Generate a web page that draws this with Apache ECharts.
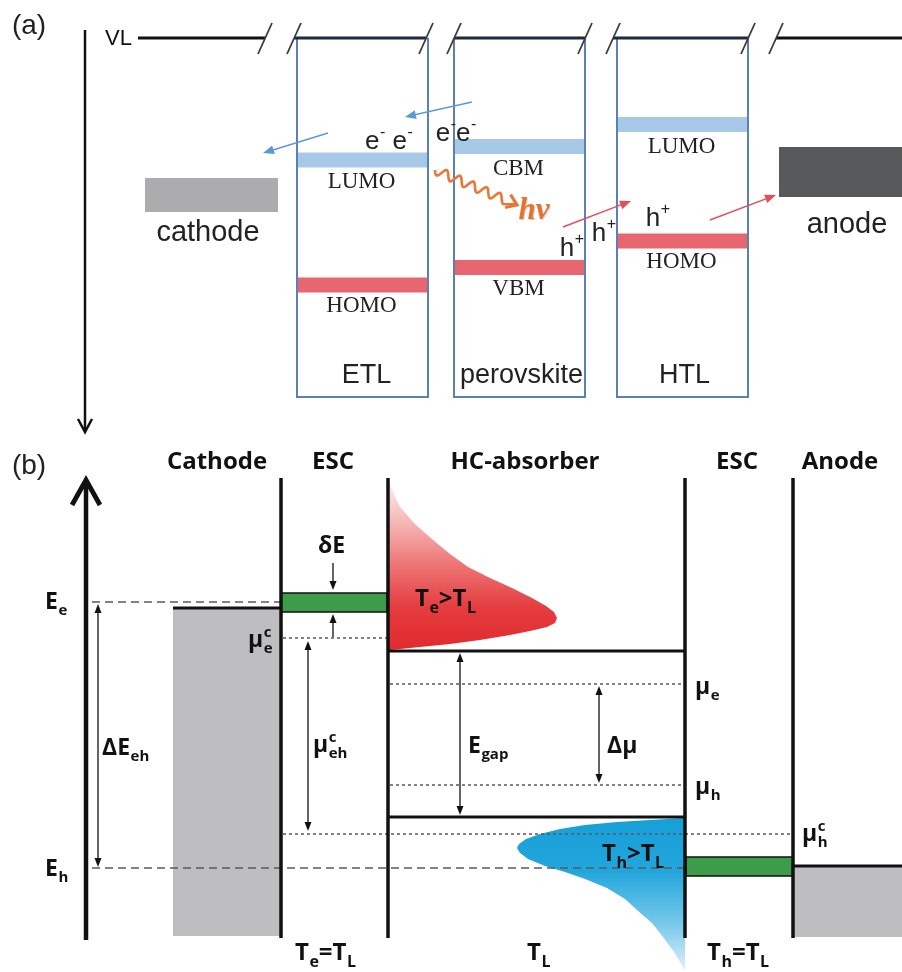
<!DOCTYPE html>
<html>
<head>
<meta charset="utf-8">
<script src="https://cdn.jsdelivr.net/npm/echarts@6/dist/echarts.min.js"></script>
<style>
  html, body { margin: 0; padding: 0; background: #fff; }
  #chart { width: 902px; height: 972px; }
</style>
</head>
<body>
<div id="chart"></div>
<script>
// Energy-level schematics drawn on one hidden cartesian frame
// (x: 0..902, y: 0..972, y grows downward = lower energy in panel (a)).

// ===================== Panel (a): device level alignment =====================
const vacuumLevel = 38;
const vacuumSegments = [[138, 265], [294, 426], [454, 585], [613, 748], [776, 902]];
const layerNames = ['ETL', 'perovskite', 'HTL'];
const layerLeft = [297, 454, 617];
const layerRight = [428, 585, 748];
const layerBottom = 397;
const upperLevel = [160, 146.5, 124.5];
const upperNames = ['LUMO', 'CBM', 'LUMO'];
const lowerLevel = [285, 267.5, 241];
const lowerNames = ['HOMO', 'VBM', 'HOMO'];
const electrodeNamesA = ['cathode', 'anode'];
const electrodeSpanA = [[145, 278], [779, 902]];
const electrodeLevelA = [[178, 212], [147, 197]];
const electrodeLabelX = [208, 847];
const electrodeLabelY = [233, 225];
const carrierText = ['e^{-} e^{-}', 'e^{-}e^{-}', 'h^{+}', 'h^{+}', 'h^{+}'];
const carrierX = [389, 456, 572, 604, 658];
const carrierY = [142, 134, 249, 234, 219];
const electronFlow = [[472, 102, 405, 117], [328, 133, 263, 153]];
const holeFlow = [[563, 227, 631, 201], [710, 220, 776, 195]];
const photonPath = [[435, 170, 517, 205]];
const energyAxisA = [[85, 30, 432]];

// ===================== Panel (b): hot-carrier cell =====================
const regionNames = ['Cathode', 'ESC', 'HC-absorber', 'ESC', 'Anode'];
const regionLabelX = [217, 333, 525, 737, 840];
const boundaryX = [281, 388, 685, 793];
const boundaryTop = 478, boundaryBottom = 938;
const energyE = 602, energyH = 868;
const cathodeFermi = 608, anodeFermi = 866;
const cbEdge = 651, vbEdge = 817;
const muE = 684, muH = 785;
const muEc = 638, muHc = 834;
const escBands = [[281, 387, 593, 612], [686, 793, 857, 876]];
const electrodeFills = [[173, 281, cathodeFermi, 936], [793, 902, anodeFermi, 937]];
const dashedLevels = [[92, energyE, 282], [92, energyH, 685]];
const dottedLevels = [[283, muEc, 387], [283, muHc, 793], [390, muE, 685], [390, muH, 685]];
const solidLevels = [[173, cathodeFermi, 281], [387, cbEdge, 685], [387, vbEdge, 685], [793, anodeFermi, 902]];
const doubleArrows = [[98, 604, 867], [308, 641, 831], [460, 653, 815], [599, 686, 783]];
const singleArrows = [[333, 563, 590], [333, 637, 614]];
const energyAxisB = [[86, 940, 480]];
// hot-electron population (outline points, x then y)
const electronDist = [[389, 478], [392, 490], [400, 507], [415, 524], [433, 540], [450, 554], [468, 567],
  [490, 578], [512, 588], [532, 598], [546, 606], [554, 612], [557, 618], [555, 623], [547, 627],
  [530, 631], [510, 635], [480, 640], [450, 644], [420, 647], [400, 649], [389, 650]];
// hot-hole population
const holeDist = [[685, 818], [650, 820], [617, 822], [585, 825], [560, 829], [540, 834], [526, 839],
  [519, 844], [517, 848], [520, 853], [528, 859], [545, 866], [565, 872], [585, 879], [607, 888],
  [625, 899], [637, 910], [652, 923], [663, 937], [674, 952], [683, 967], [685, 970]];
const symbolText = ['E_{e}', 'E_{h}', 'ΔE_{eh}', 'δE', 'μ_{e}^{c}', 'μ_{eh}^{c}', 'E_{gap}', 'Δμ', 'μ_{e}', 'μ_{h}', 'μ_{h}^{c}'];
const symbolX = [45, 45, 102, 318, 248, 313, 468, 607, 695, 695, 802];
const symbolY = [602, 869, 748, 546, 640, 745, 746, 746, 687, 787, 834];
const tempText = ['T_{e}>T_{L}', 'T_{h}>T_{L}', 'T_{e}=T_{L}', 'T_{L}', 'T_{h}=T_{L}'];
const tempX = [415, 602, 295, 527, 707];
const tempY = [599, 854, 953, 953, 953];
const panelTags = ['(a)', '(b)'];
const panelTagY = [26, 466];

// ===================== drawing helpers =====================
const FONT_A = "'Liberation Sans', Arial, sans-serif";
const FONT_SERIF = "'Liberation Serif', 'Times New Roman', serif";
const FONT_B = "'Open Sans', 'DejaVu Sans', sans-serif";

const measureCtx = document.createElement('canvas').getContext('2d');
function textWidth(text, font) { measureCtx.font = font; return measureCtx.measureText(text).width; }

// "X_{sub}^{sup}" -> runs of main / sub / sup text
function parseSpec(spec) {
  const out = [];
  let i = 0;
  const isMark = k => (spec[k] === '_' || spec[k] === '^') && spec[k + 1] === '{';
  while (i < spec.length) {
    if (isMark(i)) {
      const end = spec.indexOf('}', i);
      out.push({ text: spec.slice(i + 2, end), role: spec[i] === '_' ? 'sub' : 'sup' });
      i = end + 1;
    } else {
      let j = i;
      while (j < spec.length && !isMark(j)) j++;
      out.push({ text: spec.slice(i, j), role: 'main' });
      i = j;
    }
  }
  return out;
}

function buildLabel(spec, px, py, opt) {
  const parts = parseSpec(spec);
  const size = opt.size;
  const small = Math.round(size * (opt.scriptScale || 0.66));
  const pre = (opt.style || 'normal') + ' ' + (opt.weight || 'normal') + ' ';
  const fMain = pre + size + 'px ' + opt.family;
  const fSmall = pre + small + 'px ' + opt.family;
  const subDy = size * (opt.subDy || 0.38), supDy = -size * (opt.supDy || 0.32);
  const pieces = [];
  let cx = 0;
  for (let i = 0; i < parts.length; i++) {
    const p = parts[i];
    if (p.role === 'main') {
      pieces.push({ text: p.text, x: cx, dy: 0, font: fMain });
      cx += textWidth(p.text, fMain);
    } else {
      let w = textWidth(p.text, fSmall);
      pieces.push({ text: p.text, x: cx + 0.5, dy: p.role === 'sub' ? subDy : supDy, font: fSmall });
      const q = parts[i + 1];
      if (q && q.role !== 'main' && q.role !== p.role) {
        pieces.push({ text: q.text, x: cx + 0.5, dy: q.role === 'sub' ? subDy : supDy, font: fSmall });
        w = Math.max(w, textWidth(q.text, fSmall));
        i++;
      }
      cx += w + 0.5;
    }
  }
  const shift = opt.anchor === 'center' ? -cx / 2 : 0;
  return pieces.map(pc => ({
    type: 'text', x: px + pc.x + shift, y: py + pc.dy,
    style: Object.assign({
      text: pc.text, font: pc.font, fill: opt.color || '#111',
      textAlign: 'left', textVerticalAlign: 'middle', align: 'left', verticalAlign: 'middle'
    }, opt.extra || {})
  }));
}

function lineEl(a, b, style) {
  return { type: 'line', shape: { x1: a[0], y1: a[1], x2: b[0], y2: b[1] }, style };
}
function rectEl(a, b, style) {
  return { type: 'rect', shape: { x: Math.min(a[0], b[0]), y: Math.min(a[1], b[1]),
    width: Math.abs(b[0] - a[0]), height: Math.abs(b[1] - a[1]) }, style };
}
function headEl(p, q, len, half, fill) {
  const dx = q[0] - p[0], dy = q[1] - p[1], L = Math.hypot(dx, dy);
  const ux = dx / L, uy = dy / L, bx = q[0] - ux * len, by = q[1] - uy * len;
  return { type: 'polygon', shape: { points: [[q[0], q[1]], [bx - uy * half, by + ux * half], [bx + uy * half, by - ux * half]] }, style: { fill } };
}
function arrowEls(p, q, color, width, len, half) {
  const dx = q[0] - p[0], dy = q[1] - p[1], L = Math.hypot(dx, dy);
  const end = [q[0] - dx / L * len * 0.8, q[1] - dy / L * len * 0.8];
  return [lineEl(p, end, { stroke: color, lineWidth: width }), headEl(p, q, len, half, color)];
}

const series = [];
function add(data, draw) {
  series.push({
    type: 'custom', coordinateSystem: 'cartesian2d', data, clip: false, silent: true,
    z: 2 + series.length,
    renderItem: (params, api) => {
      const out = draw(api, data[params.dataIndex], params.dataIndex);
      return Array.isArray(out) ? { type: 'group', children: out } : out;
    }
  });
}
const C = (api, x, y) => api.coord([x, y]);
function labelSeries(texts, xs, ys, opt) {
  add(texts.map((t, i) => [xs[i], ys[i]]), (api, d, i) => buildLabel(texts[i], ...C(api, d[0], d[1]), opt));
}

// ===================== Panel (a) =====================
const BAND_HALF = 7.5;
const upperColor = '#a7c9e7', lowerColor = '#e8666f', boxColor = '#5a80b6';

// electrodes
add(electrodeSpanA.map((s, i) => [s[0], electrodeLevelA[i][0], s[1], electrodeLevelA[i][1]]),
  (api, d, i) => rectEl(C(api, d[0], d[1]), C(api, d[2], d[3]), { fill: i === 0 ? '#acacae' : '#58595b' }));

// LUMO / HOMO bands
const bandData = [];
layerNames.forEach((_, i) => {
  bandData.push([layerLeft[i], upperLevel[i], layerRight[i], 0]);
  bandData.push([layerLeft[i], lowerLevel[i], layerRight[i], 1]);
});
add(bandData, (api, d) => rectEl(C(api, d[0], d[1] - BAND_HALF), C(api, d[2], d[1] + BAND_HALF),
  { fill: d[3] === 0 ? upperColor : lowerColor }));

// layer boxes
add(layerNames.map((_, i) => [layerLeft[i], layerBottom, layerRight[i]]), (api, d) => ({
  type: 'polyline',
  shape: { points: [C(api, d[0], vacuumLevel), C(api, d[0], d[1]), C(api, d[2], d[1]), C(api, d[2], vacuumLevel)] },
  style: { stroke: boxColor, lineWidth: 2, fill: null }
}));

// vacuum level with break marks
add(vacuumSegments.map(s => [s[0], vacuumLevel, s[1]]), (api, d, i) => {
  const els = [lineEl(C(api, d[0], d[1]), C(api, d[2], d[1]), { stroke: i === 0 || i === vacuumSegments.length - 1 ? '#111' : '#1f2b3c', lineWidth: 3 })];
  const ends = [];
  if (i > 0) ends.push(d[0]);
  if (i < vacuumSegments.length - 1) ends.push(d[2]);
  ends.forEach(x => {
    const p = C(api, x, d[1]);
    els.push(lineEl([p[0] - 7, p[1] + 16], [p[0] + 7, p[1] - 15], { stroke: '#3a3a3a', lineWidth: 1.8 }));
  });
  return els;
});

// energy axis (pointing down)
add(energyAxisA, (api, d) => {
  const a = C(api, d[0], d[1]), b = C(api, d[0], d[2]);
  return [
    lineEl(a, [b[0], b[1] - 1], { stroke: '#111', lineWidth: 2.5 }),
    { type: 'polyline', shape: { points: [[b[0] - 7, b[1] - 13], [b[0], b[1]], [b[0] + 7, b[1] - 13]] },
      style: { stroke: '#111', lineWidth: 2.5, fill: null } }
  ];
});

// carrier flow arrows
add(electronFlow, (api, d) => arrowEls(C(api, d[0], d[1]), C(api, d[2], d[3]), '#5b9bd5', 1.5, 11, 4.5));
add(holeFlow, (api, d) => arrowEls(C(api, d[0], d[1]), C(api, d[2], d[3]), '#e0505a', 1.5, 11, 4.5));

// photon (wavy arrow)
add(photonPath, (api, d) => {
  const a = C(api, d[0], d[1]), b = C(api, d[2], d[3]);
  const dx = b[0] - a[0], dy = b[1] - a[1], L = Math.hypot(dx, dy), ux = dx / L, uy = dy / L;
  const waveLen = L - 13, pts = [];
  for (let s = 0; s <= waveLen; s += 1) {
    const off = 4.5 * Math.sin(2 * Math.PI * s / 14.5);
    pts.push([a[0] + ux * s - uy * off, a[1] + uy * s + ux * off]);
  }
  pts.push([b[0] - ux * 2, b[1] - uy * 2]);
  const bx = b[0] - ux * 10, by = b[1] - uy * 10;
  return [
    { type: 'polyline', shape: { points: pts }, style: { stroke: '#e8773a', lineWidth: 2.6, fill: null } },
    { type: 'polyline', shape: { points: [[bx - uy * 7, by + ux * 7], [b[0], b[1]], [bx + uy * 7, by - ux * 7]] },
      style: { stroke: '#e8773a', lineWidth: 3.2, fill: null } }
  ];
});

// panel (a) text
labelSeries(['VL'], [105], [39], { family: FONT_A, size: 22, color: '#111' });
labelSeries(layerNames, layerLeft.map((l, i) => (l + layerRight[i]) / 2 + (i === 0 ? 4 : 2)), layerNames.map(() => 376),
  { family: FONT_A, size: 27, color: '#222', anchor: 'center' });
labelSeries(upperNames, layerLeft.map((l, i) => (l + layerRight[i]) / 2 - 1), upperLevel.map(v => v + 22),
  { family: FONT_SERIF, size: 23, color: '#222', anchor: 'center' });
labelSeries(lowerNames, layerLeft.map((l, i) => (l + layerRight[i]) / 2 - 1), lowerLevel.map(v => v + 21),
  { family: FONT_SERIF, size: 23, color: '#222', anchor: 'center' });
labelSeries(electrodeNamesA, electrodeLabelX, electrodeLabelY, { family: FONT_A, size: 29, color: '#222', anchor: 'center' });
labelSeries(carrierText, carrierX, carrierY, { family: FONT_A, size: 26, color: '#222', anchor: 'center', supDy: 0.36, scriptScale: 0.62 });
labelSeries(['hv'], [534], [211], { family: FONT_SERIF, size: 31, weight: 'bold', style: 'italic', color: '#e5732f', anchor: 'center',
  extra: { textShadowColor: 'rgba(90,90,90,0.3)', textShadowOffsetX: 1, textShadowOffsetY: 1, textShadowBlur: 1 } });
labelSeries(panelTags, [29, 29], panelTagY, { family: FONT_A, size: 28, color: '#222', anchor: 'center' });

// ===================== Panel (b) =====================
// electrode fills
add(electrodeFills, (api, d) => rectEl(C(api, d[0], d[2]), C(api, d[1], d[3]), { fill: '#bebec0' }));

// carrier populations
function popSeries(points, stops) {
  add([points[0]], api => ({
    type: 'polygon',
    shape: { points: points.map(p => C(api, p[0], p[1])) },
    style: { fill: new echarts.graphic.LinearGradient(0, 0, 0, 1, stops) }
  }));
}
popSeries(electronDist, [
  { offset: 0, color: '#fdf2f2' }, { offset: 0.25, color: '#f6b9b9' }, { offset: 0.5, color: '#ee7676' },
  { offset: 0.75, color: '#e43d3f' }, { offset: 1, color: '#e12a2e' }]);
popSeries(holeDist, [
  { offset: 0, color: '#169fd8' }, { offset: 0.35, color: '#22a6dc' }, { offset: 0.7, color: '#79c9eb' },
  { offset: 1, color: '#dcf1fa' }]);

// energy-selective contacts
add(escBands, (api, d) => rectEl(C(api, d[0], d[2]), C(api, d[1], d[3]), { fill: '#3c9c4a', stroke: '#111', lineWidth: 1.5 }));

// reference levels
add(dashedLevels, (api, d) => lineEl(C(api, d[0], d[1]), C(api, d[2], d[1]), { stroke: '#5a5a5a', lineWidth: 1.5, lineDash: [8, 5] }));
add(dottedLevels, (api, d) => lineEl(C(api, d[0], d[1]), C(api, d[2], d[1]), { stroke: '#5a5a5a', lineWidth: 1.5, lineDash: [3, 3] }));
add(solidLevels, (api, d) => lineEl(C(api, d[0], d[1]), C(api, d[2], d[1]), { stroke: '#111', lineWidth: 2.8 }));

// region boundaries
add(boundaryX.map(x => [x, boundaryTop, boundaryBottom]), (api, d) =>
  lineEl(C(api, d[0], d[1]), C(api, d[0], d[2]), { stroke: '#111', lineWidth: 3.5 }));

// energy axis (pointing up)
add(energyAxisB, (api, d) => {
  const a = C(api, d[0], d[1]), b = C(api, d[0], d[2]);
  return [
    lineEl(a, [b[0], b[1] + 2], { stroke: '#111', lineWidth: 4.5 }),
    { type: 'polyline', shape: { points: [[b[0] - 14, b[1] + 25], [b[0], b[1]], [b[0] + 14, b[1] + 25]] },
      style: { stroke: '#111', lineWidth: 4.8, fill: null, lineJoin: 'miter' } }
  ];
});

// measurement arrows
add(doubleArrows, (api, d) => {
  const a = C(api, d[0], d[1]), b = C(api, d[0], d[2]);
  return [
    lineEl([a[0], a[1] + 6], [b[0], b[1] - 6], { stroke: '#111', lineWidth: 1.3 }),
    headEl(b, a, 9, 3.5, '#111'), headEl(a, b, 9, 3.5, '#111')
  ];
});
add(singleArrows, (api, d) => arrowEls(C(api, d[0], d[1]), C(api, d[0], d[2]), '#111', 1.3, 9, 3.5));

// panel (b) text
const boldB = { family: FONT_B, weight: 'bold', color: '#111' };
labelSeries(regionNames, regionLabelX, regionNames.map(() => 462), Object.assign({ size: 24, anchor: 'center' }, boldB));
labelSeries(symbolText, symbolX, symbolY, Object.assign({ size: 23 }, boldB));
labelSeries(tempText, tempX, tempY, Object.assign({ size: 24 }, boldB));

const chart = echarts.init(document.getElementById('chart'), null, { renderer: 'canvas' });
chart.setOption({
  animation: false,
  backgroundColor: '#ffffff',
  grid: { left: 0, right: 0, top: 0, bottom: 0, containLabel: false },
  xAxis: { type: 'value', min: 0, max: 902, show: false },
  yAxis: { type: 'value', min: 0, max: 972, inverse: true, show: false },
  series
});
</script>
</body>
</html>
